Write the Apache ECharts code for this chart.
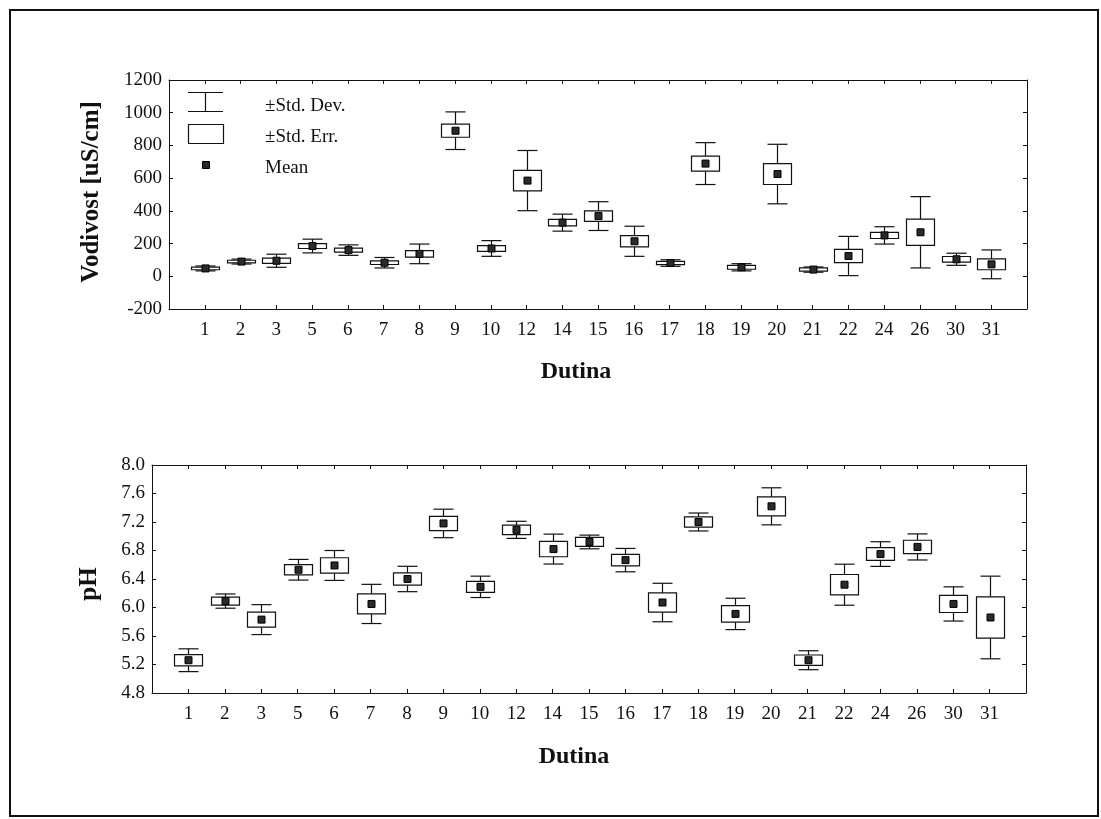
<!DOCTYPE html>
<html>
<head>
<meta charset="utf-8">
<script src="https://cdn.jsdelivr.net/npm/echarts@6/dist/echarts.min.js"></script>
<style>
  html, body { margin: 0; padding: 0; background: #fff; }
  #chart { width: 1101px; height: 819px; }
</style>
</head>
<body>
<div id="chart"></div>
<script>
// ---- data ----
const categories = ['1','2','3','5','6','7','8','9','10','12','14','15','16','17','18','19','20','21','22','24','26','30','31'];

const condMean = [48, 90, 95, 185, 160, 83, 137, 890, 170, 585, 328, 368, 214, 81, 689, 55, 625, 41, 124, 250, 269, 104, 73];
const condSE   = [8, 8, 16, 15, 12, 11, 20, 40, 18, 63, 20, 32, 34, 10, 46, 12, 64, 10, 41, 19, 80, 17, 33];
const condSD   = [15, 15, 40, 42, 32, 32, 60, 115, 48, 184, 52, 88, 92, 20, 128, 22, 182, 16, 120, 53, 218, 37, 88];

const phMean = [5.26, 6.09, 5.83, 6.53, 6.59, 6.05, 6.40, 7.18, 6.29, 7.09, 6.82, 6.92, 6.665, 6.07, 7.20, 5.91, 7.42, 5.26, 6.32, 6.75, 6.85, 6.05, 5.86];
const phSE   = [0.08, 0.056, 0.105, 0.073, 0.108, 0.14, 0.087, 0.10, 0.077, 0.066, 0.108, 0.063, 0.08, 0.136, 0.073, 0.115, 0.133, 0.073, 0.143, 0.089, 0.094, 0.12, 0.29];
const phSD   = [0.16, 0.10, 0.21, 0.145, 0.21, 0.275, 0.178, 0.20, 0.15, 0.12, 0.21, 0.096, 0.164, 0.27, 0.126, 0.22, 0.26, 0.133, 0.288, 0.173, 0.183, 0.24, 0.58];

const condTicks = { min: -200, max: 1200, interval: 200 };
const phTicks = { min: 4.8, max: 8.0, interval: 0.4 };

const legendLabels = ['\u00B1Std. Dev.', '\u00B1Std. Err.', 'Mean'];
const xTitle = 'Dutina';
const yTitleTop = 'Vodivost [uS/cm]';
const yTitleBottom = 'pH';

// ---- chart ----
const FONT = '"Liberation Serif", "Times New Roman", serif';
const INK = '#111';

function toData(mean, se, sd) {
  return categories.map((c, i) => [i + 1, mean[i], se[i], sd[i]]);
}

function renderBox(params, api) {
  const x = api.value(0), m = api.value(1), se = api.value(2), sd = api.value(3);
  const pm = api.coord([x, m]);
  const pSeTop = api.coord([x, m + se]);
  const pSeBot = api.coord([x, m - se]);
  const pSdTop = api.coord([x, m + sd]);
  const pSdBot = api.coord([x, m - sd]);
  const cx = Math.round(pm[0]) + 0.5;
  const bw = 14, cw = 10, ms = 7;
  const lineStyle = { stroke: INK, lineWidth: 1.2, fill: null };
  const children = [
    { type: 'line', shape: { x1: cx, y1: pSdTop[1], x2: cx, y2: pSeTop[1] }, style: lineStyle },
    { type: 'line', shape: { x1: cx, y1: pSeBot[1], x2: cx, y2: pSdBot[1] }, style: lineStyle },
    { type: 'line', shape: { x1: cx - cw, y1: pSdTop[1], x2: cx + cw, y2: pSdTop[1] }, style: lineStyle },
    { type: 'line', shape: { x1: cx - cw, y1: pSdBot[1], x2: cx + cw, y2: pSdBot[1] }, style: lineStyle },
    { type: 'rect', shape: { x: cx - bw, y: pSeTop[1], width: 2 * bw, height: pSeBot[1] - pSeTop[1] },
      style: { stroke: INK, lineWidth: 1.2, fill: '#fff' } },
    { type: 'rect', shape: { x: cx - ms / 2, y: pm[1] - ms / 2, width: ms, height: ms },
      style: { stroke: '#000', lineWidth: 1, fill: '#2a2a2a' } }
  ];
  return { type: 'group', children: children };
}

function xAxisCfg(gridIndex, position, showLabels) {
  return {
    type: 'value', gridIndex: gridIndex, position: position,
    min: 0, max: categories.length + 1, interval: 1,
    splitLine: { show: false },
    axisLine: { show: true, onZero: false, lineStyle: { color: INK, width: 1 } },
    axisTick: { show: true, inside: true, length: 4, lineStyle: { color: INK } },
    axisLabel: {
      show: showLabels, margin: 12, fontFamily: FONT, fontSize: 19, color: INK,
      formatter: v => categories[v - 1] || ''
    }
  };
}

function yAxisCfg(gridIndex, position, ticks, showLabels, decimals) {
  return {
    type: 'value', gridIndex: gridIndex, position: position,
    min: ticks.min, max: ticks.max, interval: ticks.interval,
    splitLine: { show: false },
    axisLine: { show: true, onZero: false, lineStyle: { color: INK, width: 1 } },
    axisTick: { show: true, inside: true, length: 4, lineStyle: { color: INK } },
    axisLabel: {
      show: showLabels, margin: 7, fontFamily: FONT, fontSize: 19, color: INK,
      formatter: v => Number(v).toFixed(decimals)
    }
  };
}

const chart = echarts.init(document.getElementById('chart'), null, { renderer: 'canvas' });

const legendX = 188, legendTextX = 265;
const option = {
  backgroundColor: '#fff',
  animation: false,
  grid: [
    { left: 169, right: 74, top: 80, height: 229, show: false },
    { left: 152, right: 75, top: 465, height: 228, show: false }
  ],
  xAxis: [
    xAxisCfg(0, 'bottom', true),
    xAxisCfg(0, 'top', false),
    xAxisCfg(1, 'bottom', true),
    xAxisCfg(1, 'top', false)
  ],
  yAxis: [
    yAxisCfg(0, 'left', condTicks, true, 0),
    yAxisCfg(0, 'right', condTicks, false, 0),
    yAxisCfg(1, 'left', phTicks, true, 1),
    yAxisCfg(1, 'right', phTicks, false, 1)
  ],
  series: [
    { type: 'custom', xAxisIndex: 0, yAxisIndex: 0, renderItem: renderBox,
      data: toData(condMean, condSE, condSD), clip: false },
    { type: 'custom', xAxisIndex: 2, yAxisIndex: 2, renderItem: renderBox,
      data: toData(phMean, phSE, phSD), clip: false }
  ],
  graphic: [
    // outer frame
    { type: 'rect', shape: { x: 10, y: 10, width: 1088, height: 806 },
      style: { fill: null, stroke: '#111', lineWidth: 2 }, silent: true },
    // axis titles
    { type: 'text', x: 576, y: 372, style: { text: xTitle, font: 'bold 24px ' + FONT, fill: INK, textAlign: 'center', textVerticalAlign: 'middle' } },
    { type: 'text', x: 574, y: 757, style: { text: xTitle, font: 'bold 24px ' + FONT, fill: INK, textAlign: 'center', textVerticalAlign: 'middle' } },
    { type: 'text', x: 92, y: 192, rotation: Math.PI / 2, style: { text: yTitleTop, font: 'bold 25px ' + FONT, fill: INK, textAlign: 'center', textVerticalAlign: 'middle' } },
    { type: 'text', x: 90, y: 584, rotation: Math.PI / 2, style: { text: yTitleBottom, font: 'bold 25px ' + FONT, fill: INK, textAlign: 'center', textVerticalAlign: 'middle' } },
    // legend
    { type: 'line', shape: { x1: legendX, y1: 92.5, x2: legendX + 35, y2: 92.5 }, style: { stroke: INK, lineWidth: 1.2 } },
    { type: 'line', shape: { x1: legendX, y1: 111.5, x2: legendX + 35, y2: 111.5 }, style: { stroke: INK, lineWidth: 1.2 } },
    { type: 'line', shape: { x1: legendX + 17.5, y1: 92.5, x2: legendX + 17.5, y2: 111.5 }, style: { stroke: INK, lineWidth: 1.2 } },
    { type: 'rect', shape: { x: legendX + 0.5, y: 124.5, width: 35, height: 19 }, style: { stroke: INK, lineWidth: 1.2, fill: '#fff' } },
    { type: 'rect', shape: { x: legendX + 14.5, y: 161.5, width: 7, height: 7 }, style: { stroke: '#000', lineWidth: 1, fill: '#2a2a2a' } },
    { type: 'text', x: legendTextX, y: 106, style: { text: legendLabels[0], font: '19px ' + FONT, fill: INK, textVerticalAlign: 'middle' } },
    { type: 'text', x: legendTextX, y: 137, style: { text: legendLabels[1], font: '19px ' + FONT, fill: INK, textVerticalAlign: 'middle' } },
    { type: 'text', x: legendTextX, y: 168, style: { text: legendLabels[2], font: '19px ' + FONT, fill: INK, textVerticalAlign: 'middle' } }
  ]
};
chart.setOption(option);
</script>
</body>
</html>
